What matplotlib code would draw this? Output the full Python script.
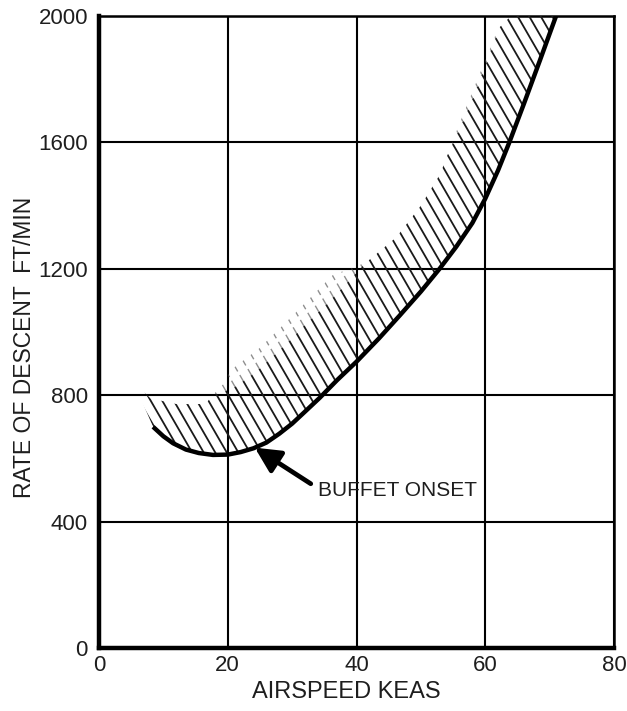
import numpy as np
import matplotlib
matplotlib.use("Agg")
import matplotlib.pyplot as plt
from matplotlib.collections import LineCollection
from matplotlib.patches import Polygon

# Buffet onset boundary: airspeed (KEAS) vs rate of descent (ft/min)
airspeed = [8.4, 10, 11.5, 13.5, 15.5, 17.7, 20, 22, 24, 26, 28, 30, 32,
            34.3, 37, 40, 43.5, 46.7, 50, 52.9, 55.5, 58, 60, 62, 63.7,
            66, 68.5, 71]
descent = [700, 670, 648, 628, 617, 611, 612, 620, 632, 650, 678, 710, 748,
           792, 848, 906, 980, 1052, 1128, 1200, 1270, 1345, 1422, 1512, 1598,
           1722, 1860, 2000]

# upper reach of the hatched (buffet) band
band_speed = [5.4, 8, 12, 16.5, 19, 20.5, 25, 30, 36.3, 41.5, 46.2, 50,
              53, 56, 59, 62, 64]
band_descent = [840, 790, 772, 772, 830, 880, 950, 1050, 1180, 1220, 1300,
                1400, 1500, 1660, 1810, 1960, 2000]

x_ticks = [0, 20, 40, 60, 80]
y_ticks = [0, 400, 800, 1200, 1600, 2000]
annotation = "BUFFET ONSET"
arrow_tip = (24.2, 634)
label_pos = (34.0, 500)

plt.rcParams['font.family'] = ['Liberation Sans', 'DejaVu Sans']
ink = '#1e1e1e'

fig = plt.figure(figsize=(6.27, 7.11), dpi=100)
ax = fig.add_axes([99 / 627, 63 / 711, 515 / 627, 632 / 711])
ax.set_xlim(0, 80)
ax.set_ylim(0, 2000)
ax.set_xticks(x_ticks)
ax.set_yticks(y_ticks)
ax.grid(True, color='black', linewidth=1.5)
ax.set_axisbelow(True)
ax.tick_params(length=0, labelsize=16, colors=ink)
ax.tick_params(axis='y', pad=8)
ax.tick_params(axis='x', pad=5)
for side, lw in [('left', 3.2), ('bottom', 3.2), ('top', 1.8), ('right', 1.8)]:
    ax.spines[side].set_linewidth(lw)

ax.set_xlabel("AIRSPEED KEAS", fontsize=17, color=ink)
ax.xaxis.set_label_coords(0.48, -0.052)
ax.set_ylabel("RATE OF DESCENT  FT/MIN", fontsize=16.5, color=ink)
ax.yaxis.set_label_coords(-0.122, 0.476)

# boundary curve
ax.plot(airspeed, descent, color='black', linewidth=3.2,
        solid_capstyle='butt', solid_joinstyle='round', zorder=5)

# diagonal hatching on the buffet side of the boundary (built in pixel space)
pts = ax.transData.transform(np.column_stack([airspeed, descent]))
seg_len = np.hypot(*np.diff(pts, axis=0).T)
arc = np.concatenate([[0], np.cumsum(seg_len)])
fine = np.linspace(0, arc[-1], 4000)
px = np.interp(fine, arc, pts[:, 0])
py = np.interp(fine, arc, pts[:, 1])
theta = np.deg2rad(60)
d = np.array([-np.cos(theta), np.sin(theta)])
n = np.array([np.sin(theta), np.cos(theta)])
s = px * n[0] + py * n[1]
spacing = 10.0
targets = np.arange(s[0] + 1, s[-1] + 40, spacing)
inv = ax.transData.inverted()
solid, faint = [], []
for t in targets:
    if t <= s[-1]:
        p0 = np.array([np.interp(t, s, px), np.interp(t, s, py)])
    else:
        # lines beyond the top of the plot start from the extended curve
        p0 = np.array([px[-1], py[-1]]) + (t - s[-1]) / n[0] * np.array([1, 0])
    solid.append(inv.transform([p0, p0 + d * 64]))
    faint.append(inv.transform([p0 + d * 64, p0 + d * 160]))

band = Polygon(np.vstack([np.column_stack([airspeed, descent]),
                          np.column_stack([band_speed, band_descent])[::-1]]),
               closed=True, transform=ax.transData, fill=False, edgecolor='none')
ax.add_patch(band)
lc_solid = LineCollection(solid, colors='#1a1a1a', linewidths=1.3, zorder=4)
lc_faint = LineCollection(faint, colors='#444444', linewidths=1.0,
                          linestyles=(0, (5, 3)), alpha=0.6, zorder=4)
for lc in (lc_solid, lc_faint):
    ax.add_collection(lc)
    lc.set_clip_path(band)

ax.annotate(annotation, xy=arrow_tip, xytext=label_pos, fontsize=15,
            ha='left', va='center', color=ink,
            arrowprops=dict(arrowstyle='-|>', color='black', lw=3.4,
                            mutation_scale=38, shrinkA=2, shrinkB=0,
                            relpos=(-0.03, 0.75)))

fig.savefig("out.png", dpi=100)
